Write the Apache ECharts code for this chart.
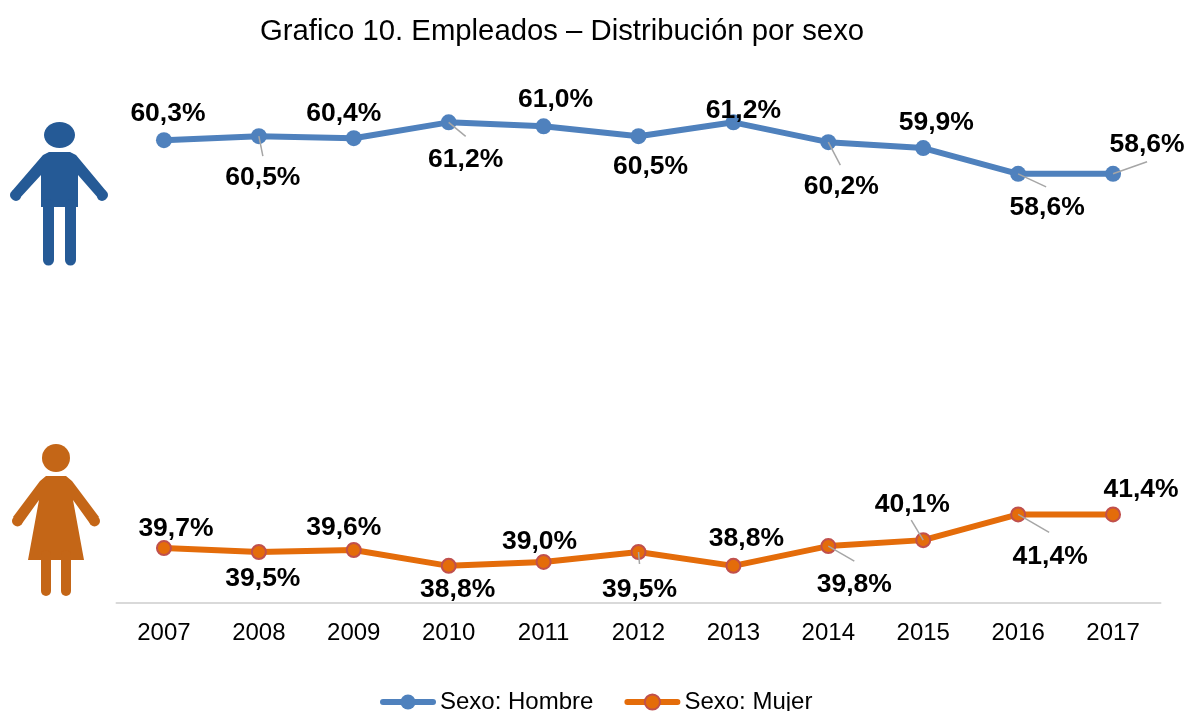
<!DOCTYPE html>
<html><head><meta charset="utf-8">
<style>html,body{margin:0;padding:0;background:#fff}#c{width:1187px;height:711px}</style>
<script src="https://cdn.jsdelivr.net/npm/echarts@6/dist/echarts.min.js"></script>
</head><body><div id="c"></div>
<script>
const years = ['2007','2008','2009','2010','2011','2012','2013','2014','2015','2016','2017'];
const hombre = [60.3,60.5,60.4,61.2,61.0,60.5,61.2,60.2,59.9,58.6,58.6];
const mujer = [39.7,39.5,39.6,38.8,39.0,39.5,38.8,39.8,40.1,41.4,41.4];
const hombreLabelOffsets = [[4,-26],[4,41],[-10,-24],[17,37],[12,-27],[12,30],[10,-12],[13,45],[13,-25],[29,34],[34,-29]];
const mujerLabelOffsets = [[12,-19],[4,27],[-10,-22],[9,24],[-4,-20],[1,38],[13,-27],[26,39],[-11,-35],[32,42],[28,-25]];
const hombreLeaders = [null,[4,20],null,[17,14],null,null,null,[12,23],null,[28,13],[34,-12]];
const mujerLeaders = [null,null,null,null,null,[1,12],null,[26,15],[-12,-20],[31,18],null];
const blue = '#4F81BD', orange = '#E46C0A', border = '#C0504D';
const fmt = v => v.toFixed(1).replace('.', ',') + '%';
const chart = echarts.init(document.getElementById('c'), null, {renderer:'canvas'});
const FONT = 'Liberation Sans';
function items(vals, offs){
  return vals.map((v,i)=>({value:v,label:{offset:offs[i]}}));
}
function leaderSeries(vals, leaders){
  return {type:'custom',silent:true,z:5,legendHoverLink:false,
    data:vals.map((v,i)=>[i,v]),
    renderItem:(p,api)=>{
      const off = leaders[api.value(0)];
      if(!off) return null;
      const c = api.coord([api.value(0),api.value(1)]);
      return {type:'line',shape:{x1:c[0],y1:c[1],x2:c[0]+off[0],y2:c[1]+off[1]},
        style:{stroke:'#A6A6A6',lineWidth:1.5}};
    }};
}
function lineSeries(name, vals, offs, color, bcolor){
  return {name,type:'line',data:items(vals,offs),symbol:'circle',symbolSize:bcolor===color?16:14,showSymbol:true,
    z:3,lineStyle:{color,width:6},itemStyle:{color,borderColor:bcolor,borderWidth:bcolor===color?0:2},
    label:{show:true,position:'inside',align:'center',verticalAlign:'middle',
      formatter:p=>fmt(p.value),fontFamily:FONT,fontSize:26.5,fontWeight:'bold',color:'#000'},
    animation:false};
}
const limb = (x1,y1,x2,y2,w,stroke)=>({type:'line',shape:{x1,y1,x2,y2},style:{stroke,lineWidth:w,lineCap:'round'}});
const man = '#255A96', woman = '#C46617';
chart.setOption({
  animation:false,
  backgroundColor:'#fff',
  title:{text:'Grafico 10. Empleados – Distribución por sexo',left:557,top:12,textAlign:'center',
    textStyle:{fontFamily:FONT,fontSize:29.3,fontWeight:'normal',color:'#000'}},
  grid:{left:116.5,width:1044,top:106.5,height:496,containLabel:false},
  xAxis:{type:'category',data:years,boundaryGap:true,
    axisLine:{lineStyle:{color:'#D9D9D9',width:2}},axisTick:{show:false},
    axisLabel:{fontFamily:FONT,fontSize:24,color:'#000',margin:19}},
  yAxis:{type:'value',min:36.95,max:62,show:false,splitLine:{show:false}},
  legend:{data:['Sexo: Hombre','Sexo: Mujer'],left:375,top:685,itemWidth:50,itemHeight:19,itemGap:31,
    lineStyle:{width:6,cap:'round'},
    textStyle:{fontFamily:FONT,fontSize:24,color:'#000',padding:[0,0,0,2]}},
  series:[
    lineSeries('Sexo: Hombre',hombre,hombreLabelOffsets,blue,blue),
    lineSeries('Sexo: Mujer',mujer,mujerLabelOffsets,orange,border),
    leaderSeries(hombre,hombreLeaders),
    leaderSeries(mujer,mujerLeaders)
  ],
  graphic:[
    {type:'group',silent:true,children:[
      {type:'ellipse',shape:{cx:59.5,cy:135,rx:15.5,ry:13},style:{fill:man}},
      {type:'polygon',shape:{points:[[49,152],[70,152],[76,155],[106,191],[99,199],[78,175],[78,207],[41,207],[41,175],[19,199],[12,191],[43,155]]},style:{fill:man}},
      limb(15,195,16,196,10,man),limb(103,195,102,196,10,man),
      limb(48.5,205,48.5,260,11,man),limb(70.5,205,70.5,260,11,man)
    ]},
    {type:'group',silent:true,children:[
      {type:'circle',shape:{cx:56,cy:458,r:14},style:{fill:woman}},
      {type:'polygon',shape:{points:[[46,476],[66,476],[72,481],[99,517],[91,525],[73,500],[84,560],[28,560],[39,500],[21,525],[13,517],[40,481]]},style:{fill:woman}},
      limb(17,521,17.5,521.5,10,woman),limb(95,521,94.5,521.5,10,woman),
      limb(46,555,46,591,10,woman),limb(66,555,66,591,10,woman)
    ]}
  ]
});
</script></body></html>
